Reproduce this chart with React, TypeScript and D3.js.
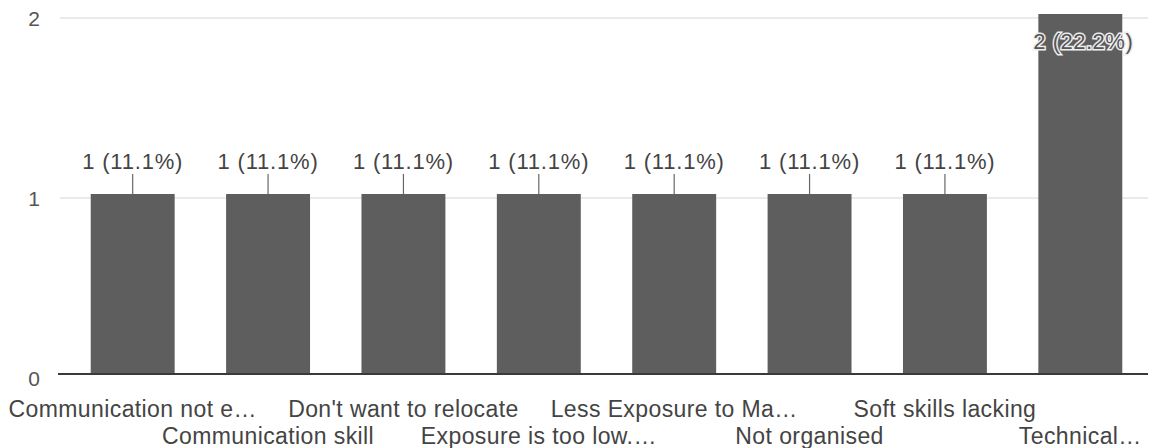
import React, { useEffect, useRef } from "react";
import * as d3 from "d3";

const categories = [
  "Communication not e…",
  "Communication skill",
  "Don't want to relocate",
  "Exposure is too low.…",
  "Less Exposure to Ma…",
  "Not organised",
  "Soft skills lacking",
  "Technical…",
];
const counts = [1, 1, 1, 1, 1, 1, 1, 2];
const percents = ["11.1%", "11.1%", "11.1%", "11.1%", "11.1%", "11.1%", "11.1%", "22.2%"];
const yTicks = [0, 1, 2];

const W = 1155;
const H = 448;

export default function App() {
  const ref = useRef<SVGSVGElement>(null);

  useEffect(() => {
    const svg = d3.select(ref.current);
    svg.selectAll("*").remove();

    const margin = { top: 14, right: 7, bottom: 74, left: 65 };
    const width = W - margin.left - margin.right;
    const height = H - margin.top - margin.bottom;
    const fontFamily = "'Liberation Sans', Arial, sans-serif";

    const xScale = d3
      .scaleBand()
      .domain(categories)
      .range([0, width])
      .paddingInner(0.38)
      .paddingOuter(0.19);

    const yScale = d3.scaleLinear().domain([0, 2]).range([height, 0]);

    const g = svg
      .append("g")
      .attr("transform", `translate(${margin.left}, ${margin.top})`);

    // gridlines
    g.selectAll(".grid")
      .data(yTicks.filter((t) => t > 0))
      .enter()
      .append("line")
      .attr("x1", -5)
      .attr("x2", width)
      .attr("y1", (d) => yScale(d) + 4)
      .attr("y2", (d) => yScale(d) + 4)
      .attr("stroke", "#e4e4e4")
      .attr("stroke-width", 1.5);

    // y labels
    g.selectAll(".ylab")
      .data(yTicks)
      .enter()
      .append("text")
      .attr("x", -31)
      .attr("y", (d) => yScale(d) + 5)
      .attr("dy", "0.35em")
      .attr("text-anchor", "middle")
      .style("font-family", fontFamily)
      .style("font-size", "21px")
      .style("fill", "#555")
      .text((d) => d);

    // bars
    g.selectAll(".bar")
      .data(categories)
      .enter()
      .append("rect")
      .attr("x", (d) => xScale(d) as number)
      .attr("y", (d, i) => yScale(counts[i]))
      .attr("width", xScale.bandwidth())
      .attr("height", (d, i) => height - yScale(counts[i]))
      .attr("fill", "#5e5e5e");

    // baseline
    g.append("line")
      .attr("x1", -7)
      .attr("x2", width)
      .attr("y1", height)
      .attr("y2", height)
      .attr("stroke", "#3a3a3a")
      .attr("stroke-width", 2);

    // value labels
    categories.forEach((c, i) => {
      const cx = (xScale(c) as number) + xScale.bandwidth() / 2;
      const top = yScale(counts[i]);
      const label = `${counts[i]} (${percents[i]})`;
      if (counts[i] < 2) {
        g.append("line")
          .attr("x1", cx)
          .attr("x2", cx)
          .attr("y1", top - 20)
          .attr("y2", top)
          .attr("stroke", "#666")
          .attr("stroke-width", 1.2);
        g.append("text")
          .attr("x", cx)
          .attr("y", top - 25)
          .attr("text-anchor", "middle")
          .style("font-family", fontFamily)
          .style("font-size", "22px")
          .style("letter-spacing", "0.8px")
          .style("fill", "#444")
          .text(label);
      } else {
        g.append("text")
          .attr("x", cx + 3)
          .attr("y", top + 35)
          .attr("text-anchor", "middle")
          .style("font-family", fontFamily)
          .style("font-size", "22px")
          .style("letter-spacing", "0.5px")
          .style("fill", "#555")
          .style("stroke", "#eee")
          .style("stroke-width", 3)
          .style("paint-order", "stroke")
          .text(label);
      }
    });

    // x labels, staggered
    g.selectAll(".xlab")
      .data(categories)
      .enter()
      .append("text")
      .attr("x", (d) => (xScale(d) as number) + xScale.bandwidth() / 2)
      .attr("y", (d, i) => height + (i % 2 === 0 ? 43 : 70))
      .attr("text-anchor", "middle")
      .style("font-family", fontFamily)
      .style("font-size", "23px")
      .style("letter-spacing", "0.4px")
      .style("fill", "#444")
      .text((d) => d);
  }, []);

  return (
    <svg
      ref={ref}
      width={W}
      height={H}
      style={{ position: "absolute", left: 0, top: 0, background: "#fff" }}
    />
  );
}
